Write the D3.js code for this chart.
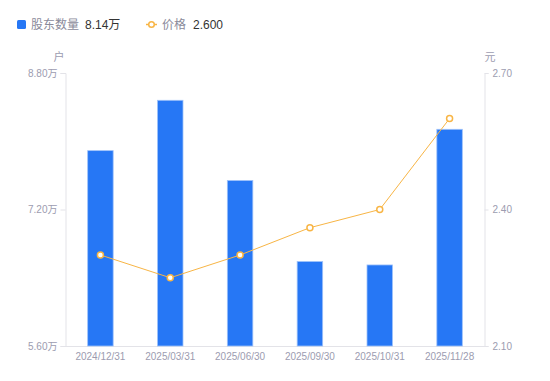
<!DOCTYPE html>
<html>
<head>
<meta charset="utf-8">
<script src="https://cdn.jsdelivr.net/npm/d3@7"></script>
<style>
  body { margin: 0; background: #fff; }
  text { font-family: "Liberation Sans", "Noto Sans CJK SC", sans-serif; }
</style>
</head>
<body>
<div id="chart"></div>
<script>
// data
var dates = ['2024/12/31', '2025/03/31', '2025/06/30', '2025/09/30', '2025/10/31', '2025/11/28'];
var holders = [7.89, 8.48, 7.54, 6.59, 6.55, 8.14];   // 万户
var prices = [2.30, 2.25, 2.30, 2.36, 2.40, 2.60];    // 元
var leftTicks = [5.6, 7.2, 8.8];
var rightTicks = [2.1, 2.4, 2.7];

var width = 550, height = 381;
var margin = { top: 73, right: 65.5, bottom: 35, left: 65.5 };

var barColor = '#2677f5',
    lineColor = '#f8b545',
    axisColor = '#e3e3e8',
    tickText = '#9c9cb0';

var svg = d3.select('#chart').append('svg')
    .attr('width', width)
    .attr('height', height);

var x = d3.scaleBand().domain(dates).range([margin.left, width - margin.right]);
var yL = d3.scaleLinear().domain([5.6, 8.8]).range([height - margin.bottom, margin.top]);
var yR = d3.scaleLinear().domain([2.1, 2.7]).range([height - margin.bottom, margin.top]);

var bottom = height - margin.bottom;

// left axis
var gl = svg.append('g').attr('transform', 'translate(' + margin.left + ',0)')
    .call(d3.axisLeft(yL).tickValues(leftTicks).tickSize(5).tickPadding(3)
        .tickFormat(function (d) { return d.toFixed(2) + '万'; }));
gl.select('.domain').attr('stroke', axisColor);
gl.selectAll('.tick line').attr('stroke', axisColor);
gl.selectAll('.tick text').attr('fill', tickText).style('font-size', '10px');

// right axis
var gr = svg.append('g').attr('transform', 'translate(' + (width - margin.right) + ',0)')
    .call(d3.axisRight(yR).tickValues(rightTicks).tickSize(4).tickPadding(4)
        .tickFormat(d3.format('.2f')));
gr.select('.domain').attr('stroke', axisColor);
gr.selectAll('.tick line').attr('stroke', axisColor);
gr.selectAll('.tick text').attr('fill', tickText).style('font-size', '10px');

// bottom axis
var gb = svg.append('g').attr('transform', 'translate(0,' + bottom + ')')
    .call(d3.axisBottom(x).tickSize(0).tickPadding(7));
gb.select('.domain').attr('stroke', axisColor);
gb.selectAll('.tick text').attr('fill', tickText).style('font-size', '10px');

// unit labels
svg.append('text').attr('x', 59).attr('y', 61).attr('text-anchor', 'middle')
    .attr('fill', tickText).style('font-size', '11px').text('户');
svg.append('text').attr('x', 490).attr('y', 61).attr('text-anchor', 'middle')
    .attr('fill', tickText).style('font-size', '11px').text('元');

// bars
var bw = 25.5;
svg.selectAll('.bar')
    .data(holders)
    .enter().append('rect')
    .attr('class', 'bar')
    .attr('x', function (d, i) { return x(dates[i]) + x.bandwidth() / 2 - bw / 2; })
    .attr('y', function (d) { return yL(d); })
    .attr('width', bw)
    .attr('height', function (d) { return bottom - yL(d); })
    .attr('fill', barColor)
    .attr('stroke', '#9fc2fa')
    .attr('stroke-width', 0.8);

// price line
var line = d3.line()
    .x(function (d, i) { return x(dates[i]) + x.bandwidth() / 2; })
    .y(function (d) { return yR(d); });

svg.append('path')
    .datum(prices)
    .attr('d', line)
    .attr('fill', 'none')
    .attr('stroke', lineColor)
    .attr('stroke-width', 1);

svg.selectAll('.pt')
    .data(prices)
    .enter().append('circle')
    .attr('class', 'pt')
    .attr('cx', function (d, i) { return x(dates[i]) + x.bandwidth() / 2; })
    .attr('cy', function (d) { return yR(d); })
    .attr('r', 3)
    .attr('fill', '#fff')
    .attr('stroke', lineColor)
    .attr('stroke-width', 1.5);

// legend
var lg = svg.append('g');
lg.append('rect').attr('x', 17).attr('y', 20).attr('width', 9).attr('height', 9).attr('rx', 1.5)
    .attr('fill', barColor);
lg.append('text').attr('x', 31).attr('y', 29).attr('fill', '#8a8a9a').style('font-size', '12px').text('股东数量');
lg.append('text').attr('x', 85).attr('y', 29).attr('fill', '#333').style('font-size', '12px')
    .text(holders[holders.length - 1].toFixed(2) + '万');

lg.append('line').attr('x1', 146).attr('x2', 157).attr('y1', 24.5).attr('y2', 24.5)
    .attr('stroke', lineColor).attr('stroke-width', 1.5);
lg.append('circle').attr('cx', 151.5).attr('cy', 24.5).attr('r', 2.8)
    .attr('fill', '#fff').attr('stroke', lineColor).attr('stroke-width', 1.5);
lg.append('text').attr('x', 162).attr('y', 29).attr('fill', '#8a8a9a').style('font-size', '12px').text('价格');
lg.append('text').attr('x', 193).attr('y', 29).attr('fill', '#333').style('font-size', '12px')
    .text(prices[prices.length - 1].toFixed(3));
</script>
</body>
</html>
